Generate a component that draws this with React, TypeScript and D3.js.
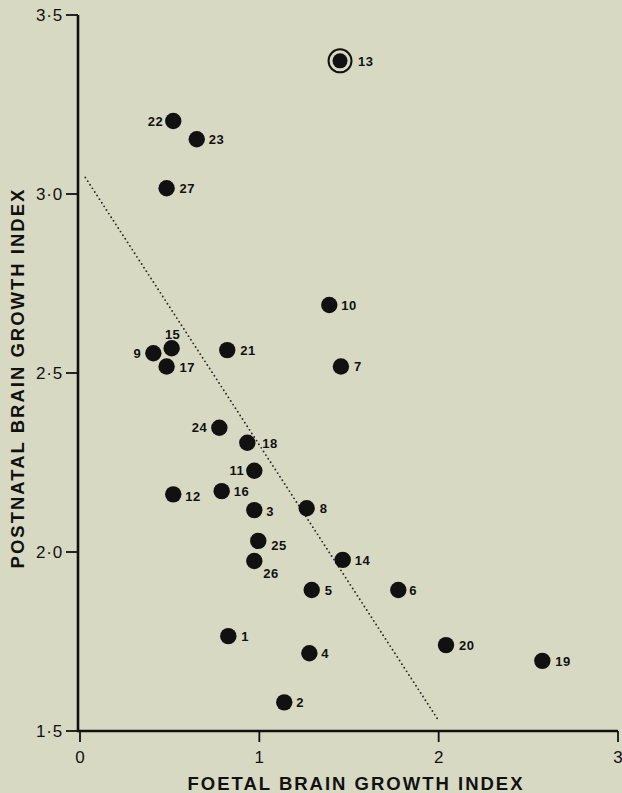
import React from "react";
import * as d3 from "d3";

// ---- data ----
const pointIds = [
  "1", "2", "3", "4", "5", "6", "7", "8", "9", "10", "11", "12", "13", "14",
  "15", "16", "17", "18", "19", "20", "21", "22", "23", "24", "25", "26", "27",
];
const foetalIndex = [
  0.827, 1.139, 0.972, 1.279, 1.292, 1.775, 1.455, 1.264, 0.409, 1.39, 0.972, 0.52, 1.45, 1.465,
  0.511, 0.79, 0.483, 0.933, 2.578, 2.041, 0.821, 0.52, 0.651, 0.777, 0.994, 0.972, 0.483,
];
const postnatalIndex = [
  1.765, 1.58, 2.117, 1.717, 1.894, 1.894, 2.518, 2.122, 2.555, 2.69, 2.227, 2.161, 3.372, 1.978,
  2.569, 2.17, 2.518, 2.305, 1.696, 1.74, 2.564, 3.204, 3.153, 2.347, 2.031, 1.975, 3.016,
];
const highlightedId = "13";
const trendX = [0.03, 2.0];
const trendY = [3.046, 1.529];
const xTicks = [0, 1, 2, 3];
const xTickLabels = ["0", "1", "2", "3"];
const yTicks = [1.5, 2.0, 2.5, 3.0, 3.5];
const yTickLabels = ["1·5", "2·0", "2·5", "3·0", "3·5"];
const xTitle = "FOETAL BRAIN GROWTH INDEX";
const yTitle = "POSTNATAL BRAIN GROWTH INDEX";

// label placement (style): anchor, dx, dy per point id
const labelPlacement: Record<string, [string, number, number]> = {
  "13": ["start", 18, 0],
  "22": ["end", -10, 0],
  "23": ["start", 12, 0],
  "27": ["start", 13, 0],
  "15": ["middle", 1, -14],
  "9": ["end", -12, 0],
  "17": ["start", 13, 1],
  "21": ["start", 13, 0],
  "24": ["end", -12, 0],
  "18": ["start", 15, 1],
  "11": ["end", -10, 0],
  "12": ["start", 12, 2],
  "16": ["start", 12, 0],
  "3": ["start", 12, 1],
  "8": ["start", 13, 0],
  "25": ["start", 13, 4],
  "26": ["start", 9, 12],
  "14": ["start", 12, 0],
  "5": ["start", 13, 0],
  "6": ["start", 11, 0],
  "1": ["start", 13, 0],
  "4": ["start", 12, 0],
  "2": ["start", 12, 0],
  "20": ["start", 13, 0],
  "19": ["start", 13, 0],
  "10": ["start", 12, 0],
  "7": ["start", 13, 0],
};

const W = 622;
const H = 793;
const BG = "#d8d9c3";
const INK = "#111111";
const FONT = "'Liberation Sans', Arial, Helvetica, sans-serif";

export default function App() {
  const x = d3.scaleLinear().domain([0, 3]).range([80, 618]);
  const y = d3.scaleLinear().domain([1.5, 3.5]).range([731, 15]);
  const axisX = 78;
  const axisY = 731;

  const line = d3
    .line<number>()
    .x((_, i) => x(trendX[i]))
    .y((_, i) => y(trendY[i]));

  return (
    <svg
      width={W}
      height={H}
      style={{ position: "absolute", left: 0, top: 0, display: "block" }}
      fontFamily={FONT}
    >
      <rect x={0} y={0} width={W} height={H} fill={BG} />

      {/* trend line */}
      <path
        d={line(trendX) || ""}
        fill="none"
        stroke="#2a2a2a"
        strokeWidth={1.9}
        strokeDasharray="0 4.3"
        strokeLinecap="round"
      />

      {/* axes */}
      <line x1={axisX} y1={y(3.5)} x2={axisX} y2={axisY + 1} stroke={INK} strokeWidth={2.6} />
      <line x1={axisX - 1} y1={axisY} x2={x(3)} y2={axisY} stroke={INK} strokeWidth={2.6} />

      {/* y ticks */}
      {yTicks.map((t, i) => (
        <g key={"yt" + i}>
          <line x1={axisX - 12} x2={axisX} y1={y(t)} y2={y(t)} stroke={INK} strokeWidth={1.8} />
          <text
            x={axisX - 15}
            y={y(t)}
            dy="0.36em"
            textAnchor="end"
            fontSize={17}
            letterSpacing={0.8}
            fill={INK}
          >
            {yTickLabels[i]}
          </text>
        </g>
      ))}

      {/* x ticks */}
      {xTicks.map((t, i) => (
        <g key={"xt" + i}>
          <line x1={x(t)} x2={x(t)} y1={axisY} y2={axisY + 11} stroke={INK} strokeWidth={1.8} />
          <text x={x(t)} y={763} textAnchor="middle" fontSize={17} fill={INK}>
            {xTickLabels[i]}
          </text>
        </g>
      ))}

      {/* axis titles */}
      <text
        x={356}
        y={790}
        textAnchor="middle"
        fontSize={18.5}
        fontWeight="bold"
        letterSpacing={2}
        fill={INK}
      >
        {xTitle}
      </text>
      <text
        transform={`translate(23.5, 378) rotate(-90)`}
        textAnchor="middle"
        fontSize={18.5}
        fontWeight="bold"
        letterSpacing={2}
        fill={INK}
      >
        {yTitle}
      </text>

      {/* points */}
      {pointIds.map((id, i) => {
        const cx = x(foetalIndex[i]);
        const cy = y(postnatalIndex[i]);
        const [anchor, dx, dy] = labelPlacement[id] || ["start", 12, 0];
        return (
          <g key={"p" + id}>
            {id === highlightedId && (
              <circle cx={cx} cy={cy} r={11.5} fill="none" stroke={INK} strokeWidth={2} />
            )}
            <circle cx={cx} cy={cy} r={id === highlightedId ? 7.5 : 8.2} fill={INK} />
            <text
              x={cx + dx}
              y={cy + dy}
              dy="0.36em"
              textAnchor={anchor as any}
              fontSize={13}
              fontWeight="bold"
              letterSpacing={0.5}
              fill={INK}
            >
              {id}
            </text>
          </g>
        );
      })}
    </svg>
  );
}
